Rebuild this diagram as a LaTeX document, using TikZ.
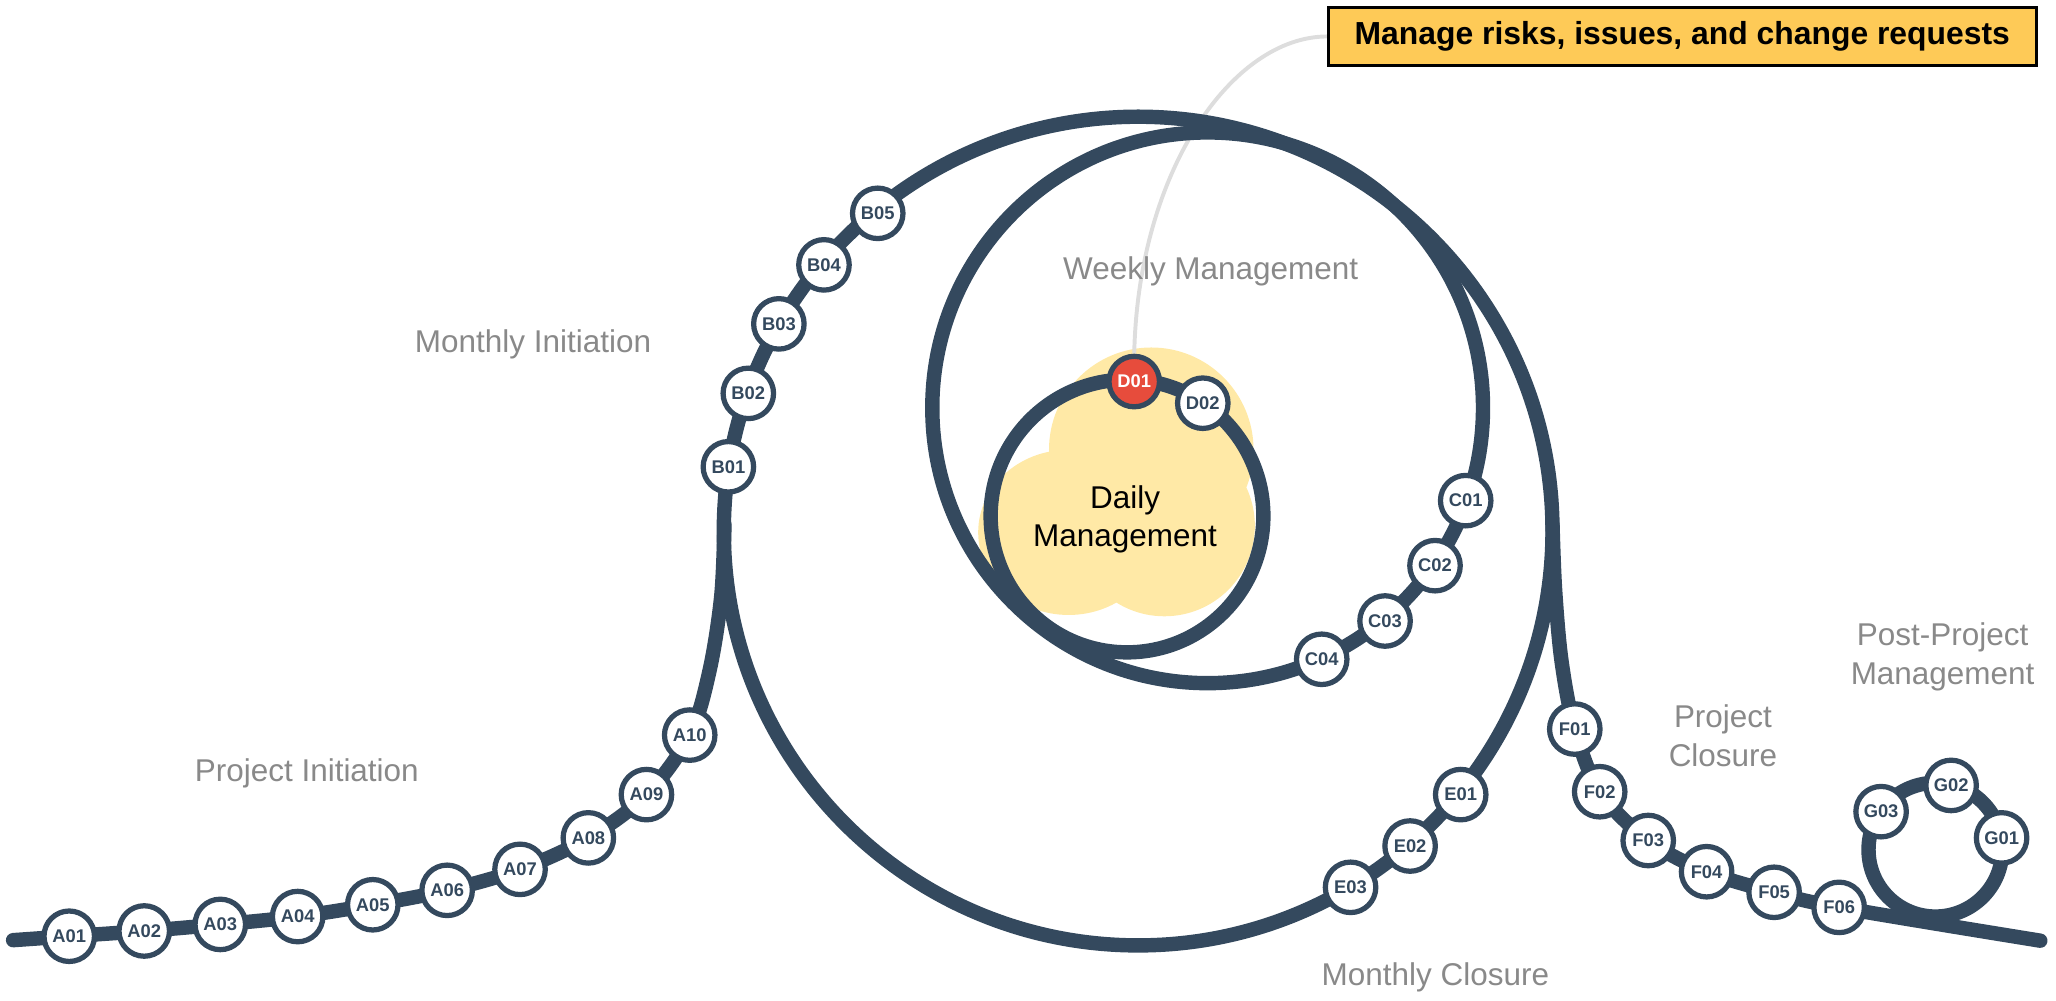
\documentclass[tikz,border=0pt]{standalone}
\usepackage{fontspec}
\setmainfont{Liberation Sans}
\definecolor{track}{RGB}{52,73,94}
\definecolor{lbl}{RGB}{137,137,137}
\definecolor{cloudc}{RGB}{255,233,166}
\definecolor{boxfill}{RGB}{254,202,87}
\definecolor{dred}{RGB}{231,76,60}
\definecolor{connc}{RGB}{221,221,221}
\pgfdeclarelayer{cloudlayer}
\pgfdeclarelayer{connlayer}
\pgfdeclarelayer{tracklayer}
\pgfsetlayers{cloudlayer,connlayer,tracklayer,main}
\begin{document}
\begin{tikzpicture}[x=1pt,y=-1pt,
  trackline/.style={draw=track, line width=11pt, line cap=round, line join=round},
  stop/.style={circle, draw=track, line width=4pt, fill=white, minimum size=38.5pt, inner sep=0pt,
    font=\fontsize{14}{15}\selectfont\bfseries, text=track},
  redstop/.style={stop, fill=dred, text=white},
  phase/.style={font=\fontsize{24}{29.6}\selectfont, text=lbl, inner sep=0pt, anchor=base},
  dailytxt/.style={font=\fontsize{24}{29.6}\selectfont, text=black, inner sep=0pt, anchor=base},
  riskbox/.style={draw=black, line width=2pt, fill=boxfill, minimum width=540pt, minimum height=44.4pt,
    inner sep=0pt, font=\fontsize{24.3}{28}\selectfont\bfseries, text=black},
  connline/.style={draw=connc, line width=3pt},
]
\useasboundingbox (0,0) rectangle (1568,763.4);

% loop centres
\coordinate (cM) at (868,405);
\coordinate (cW) at (921,311);
\coordinate (cD) at (859.5,393.5);
\coordinate (cG) at (1476,648);

% stop positions
\coordinate (pS) at (10,717);
\coordinate (pA01) at (52.8,714);
\coordinate (pA02) at (110,710);
\coordinate (pA03) at (168,705);
\coordinate (pA04) at (227,699);
\coordinate (pA05) at (284.3,690);
\coordinate (pA06) at (341,679);
\coordinate (pA07) at (396.6,663);
\coordinate (pA08) at (448.7,639);
\coordinate (pA09) at (493,606);
\coordinate (pA10) at (526,560.6);
\coordinate (pJ1) at (541,512);
\coordinate (pJ2) at (550,455);
\coordinate (pJ3) at (552.5,400);
\coordinate (pB01) at (555.5,356);
\coordinate (pB02) at (570.7,300);
\coordinate (pB03) at (594,247);
\coordinate (pB04) at (628.4,202);
\coordinate (pB05) at (669.4,162.7);
\coordinate (pC01) at (1117.8,381.8);
\coordinate (pC02) at (1094.4,431.4);
\coordinate (pC03) at (1056.3,473.6);
\coordinate (pC04) at (1008,502.8);
\coordinate (pD01) at (865,291);
\coordinate (pD02) at (917.3,307.5);
\coordinate (pE01) at (1114,606);
\coordinate (pE02) at (1075.4,645.2);
\coordinate (pE03) at (1030,676.7);
\coordinate (pR1) at (1184,400);
\coordinate (pR2) at (1186,450);
\coordinate (pR3) at (1191,505);
\coordinate (pF01) at (1201,556);
\coordinate (pF02) at (1220,603.8);
\coordinate (pF03) at (1257,641);
\coordinate (pF04) at (1301.5,664.8);
\coordinate (pF05) at (1353,680.5);
\coordinate (pF06) at (1402.6,692);
\coordinate (pEnd) at (1556,717.4);
\coordinate (pG01) at (1526.5,639);
\coordinate (pG02) at (1488,599);
\coordinate (pG03) at (1434.6,619);

% cloud behind daily loop
\begin{pgfonlayer}{cloudlayer}
\fill[cloudc] (878,343) circle[radius=78]
  (815,406) ellipse[x radius=69, y radius=63]
  (888,401) circle[radius=69];
\end{pgfonlayer}

% tracks
\begin{pgfonlayer}{tracklayer}
\draw[trackline] (cM) circle[radius=316];
\draw[trackline] (cW) circle[radius=210];
\draw[trackline] (cD) circle[radius=104];
\draw[trackline] (cG) circle[radius=51];
\draw[trackline] plot[smooth, tension=0.55] coordinates {(pS) (pA01) (pA02) (pA03) (pA04) (pA05) (pA06) (pA07) (pA08) (pA09) (pA10) (pJ1) (pJ2) (pJ3)};
\draw[trackline] plot[smooth, tension=0.55] coordinates {(pR1) (pR2) (pR3) (pF01) (pF02) (pF03) (pF04) (pF05) (pF06) (pEnd)};
\end{pgfonlayer}

% stops
\foreach \n in {A01,A02,A03,A04,A05,A06,A07,A08,A09,A10,B01,B02,B03,B04,B05,C01,C02,C03,C04,D02,E01,E02,E03,F01,F02,F03,F04,F05,F06,G01,G02,G03}
  \node[stop] (\n) at (p\n) {\n};
\node[redstop] (D01) at (pD01) {D01};

% callout box and its connector
\node[riskbox] (risk) at (1283,27.8) {Manage risks, issues, and change requests};
\begin{pgfonlayer}{connlayer}
\draw[connline] (D01.north) .. controls (868,130) and (940,28) .. (risk.west);
\end{pgfonlayer}

% phase labels
\node[phase] (lMI) at (406.5,269) {Monthly Initiation};
\node[phase] (lWM) at (923.3,213) {Weekly Management};
\node[phase] (lPI) at (234,596) {Project Initiation};
\node[phase] (lMC) at (1094.7,751.2) {Monthly Closure};
\node[phase] (lPC1) at (1314,554.7) {Project};
\node[phase] (lPC2) at (1314,584.7) {Closure};
\node[phase] (lPP1) at (1481.5,492) {Post-Project};
\node[phase] (lPP2) at (1481.5,521.7) {Management};
\node[dailytxt] (lDM1) at (858,388) {Daily};
\node[dailytxt] (lDM2) at (858,417) {Management};
\end{tikzpicture}
\end{document}
